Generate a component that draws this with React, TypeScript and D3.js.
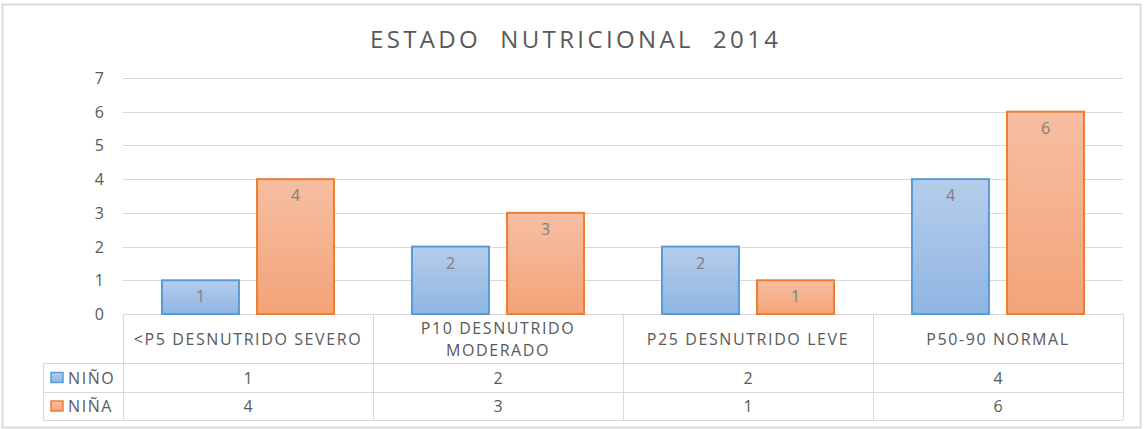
import React, { useRef, useEffect } from "react";
import * as d3 from "d3";

// data
const categories = [
  "<P5 DESNUTRIDO SEVERO",
  "P10 DESNUTRIDO MODERADO",
  "P25 DESNUTRIDO LEVE",
  "P50-90 NORMAL",
];
const categoryLines = [
  ["<P5 DESNUTRIDO SEVERO"],
  ["P10 DESNUTRIDO", "MODERADO"],
  ["P25 DESNUTRIDO LEVE"],
  ["P50-90 NORMAL"],
];
const seriesNames = ["NIÑO", "NIÑA"];
const ninoValues = [1, 2, 2, 4];
const ninaValues = [4, 3, 1, 6];
const yTicks = [0, 1, 2, 3, 4, 5, 6, 7];

const App = () => {
  const d3Container = useRef<SVGSVGElement | null>(null);

  useEffect(() => {
    if (!d3Container.current) return;
    const svg = d3.select(d3Container.current);
    svg.selectAll("*").remove();

    const font = "'Open Sans', 'DejaVu Sans', sans-serif";
    const textColor = "#595959";
    const lineColor = "#d9d9d9";
    const ls = 1.6; // stretched look of the original

    const values = [ninoValues, ninaValues];
    const fills = ["url(#gradBlue)", "url(#gradOrange)"];
    const strokes = ["#5b9bd5", "#ed7d31"];

    // gradients
    const defs = svg.append("defs");
    const grads = [
      { id: "gradBlue", top: "#b5cdeb", bottom: "#8fb5e3" },
      { id: "gradOrange", top: "#f6bea2", bottom: "#f4a378" },
    ];
    grads.forEach((g) => {
      const lg = defs
        .append("linearGradient")
        .attr("id", g.id)
        .attr("x1", 0)
        .attr("y1", 0)
        .attr("x2", 0)
        .attr("y2", 1);
      lg.append("stop").attr("offset", "0%").attr("stop-color", g.top);
      lg.append("stop").attr("offset", "100%").attr("stop-color", g.bottom);
    });

    // outer frame
    svg
      .append("rect")
      .attr("x", 2.5)
      .attr("y", 4.5)
      .attr("width", 1138)
      .attr("height", 423)
      .attr("fill", "white")
      .attr("stroke", lineColor)
      .attr("stroke-width", 2);

    // title
    svg
      .append("text")
      .attr("x", 574)
      .attr("y", 48)
      .attr("text-anchor", "middle")
      .attr("font-family", font)
      .attr("font-size", 24)
      .attr("fill", textColor)
      .attr("textLength", 408)
      .attr("lengthAdjust", "spacing")
      .style("white-space", "pre")
      .text("ESTADO  NUTRICIONAL  2014");

    const left = 123;
    const right = 1123;
    const top = 78;
    const bottom = 314;

    const x0 = d3.scaleBand().domain(categories).range([left, right]);
    const x1 = d3
      .scaleBand()
      .domain(seriesNames)
      .range([0, x0.bandwidth()])
      .paddingInner(0.19)
      .paddingOuter(0.41);
    const y = d3.scaleLinear().domain([0, 7]).range([bottom, top]);

    // gridlines
    svg
      .append("g")
      .selectAll("line")
      .data(yTicks)
      .join("line")
      .attr("x1", left)
      .attr("x2", right)
      .attr("y1", (d) => Math.round(y(d)) + 0.5)
      .attr("y2", (d) => Math.round(y(d)) + 0.5)
      .attr("stroke", lineColor)
      .attr("stroke-width", 1);

    // y tick labels
    svg
      .append("g")
      .selectAll("text")
      .data(yTicks)
      .join("text")
      .attr("x", 104)
      .attr("y", (d) => y(d) + 6)
      .attr("text-anchor", "end")
      .attr("font-family", font)
      .attr("font-size", 16)
      .attr("fill", textColor)
      .text((d) => d);

    // bars
    const groups = svg
      .append("g")
      .selectAll("g")
      .data(categories)
      .join("g")
      .attr("transform", (d) => `translate(${x0(d)},0)`);

    seriesNames.forEach((s, si) => {
      groups
        .append("rect")
        .attr("x", x1(s)!)
        .attr("y", (d, i) => y(values[si][i]))
        .attr("width", x1.bandwidth())
        .attr("height", (d, i) => bottom - y(values[si][i]))
        .attr("fill", fills[si])
        .attr("stroke", strokes[si])
        .attr("stroke-width", 2);

      groups
        .append("text")
        .attr("x", x1(s)! + x1.bandwidth() / 2)
        .attr("y", (d, i) => y(values[si][i]) + 22)
        .attr("text-anchor", "middle")
        .attr("font-family", font)
        .attr("font-size", 16)
        .attr("fill", "#7f7f7f")
        .text((d, i) => values[si][i]);
    });

    // data table
    const rowTops = [bottom, 363, 392, 420];
    const table = svg.append("g");
    const legendLeft = 43;

    // horizontal lines
    [363, 392, 420].forEach((ry) => {
      table
        .append("line")
        .attr("x1", legendLeft)
        .attr("x2", right)
        .attr("y1", ry + 0.5)
        .attr("y2", ry + 0.5)
        .attr("stroke", lineColor);
    });
    // vertical lines
    const vxs = [left, ...categories.map((c) => x0(c)! + x0.bandwidth())];
    vxs.forEach((vx) => {
      table
        .append("line")
        .attr("x1", vx + 0.5)
        .attr("x2", vx + 0.5)
        .attr("y1", bottom)
        .attr("y2", 420)
        .attr("stroke", lineColor);
    });
    table
      .append("line")
      .attr("x1", legendLeft + 0.5)
      .attr("x2", legendLeft + 0.5)
      .attr("y1", 363)
      .attr("y2", 420)
      .attr("stroke", lineColor);

    // category labels
    categories.forEach((c, ci) => {
      const lines = categoryLines[ci];
      const cx = x0(c)! + x0.bandwidth() / 2;
      const cy = (rowTops[0] + rowTops[1]) / 2;
      const lh = 22;
      lines.forEach((ln, li) => {
        table
          .append("text")
          .attr("x", cx)
          .attr("y", cy + (li - (lines.length - 1) / 2) * lh + 6)
          .attr("text-anchor", "middle")
          .attr("font-family", font)
          .attr("font-size", 16)
          .attr("letter-spacing", ls)
          .attr("fill", textColor)
          .text(ln);
      });
    });

    // value rows + legend keys
    seriesNames.forEach((s, si) => {
      const cy = (rowTops[si + 1] + rowTops[si + 2]) / 2;
      table
        .append("rect")
        .attr("x", 51)
        .attr("y", cy - 5)
        .attr("width", 12)
        .attr("height", 10)
        .attr("fill", fills[si])
        .attr("stroke", strokes[si])
        .attr("stroke-width", 1.5);
      table
        .append("text")
        .attr("x", 68)
        .attr("y", cy + 6)
        .attr("font-family", font)
        .attr("font-size", 16)
        .attr("letter-spacing", ls)
        .attr("fill", textColor)
        .text(s);
      categories.forEach((c, ci) => {
        table
          .append("text")
          .attr("x", x0(c)! + x0.bandwidth() / 2)
          .attr("y", cy + 6)
          .attr("text-anchor", "middle")
          .attr("font-family", font)
          .attr("font-size", 16)
          .attr("fill", textColor)
          .text(values[si][ci]);
      });
    });
  }, []);

  return (
    <svg
      ref={d3Container}
      width={1147}
      height={429}
      style={{ position: "absolute", left: 0, top: 0, display: "block" }}
    />
  );
};

export default App;
